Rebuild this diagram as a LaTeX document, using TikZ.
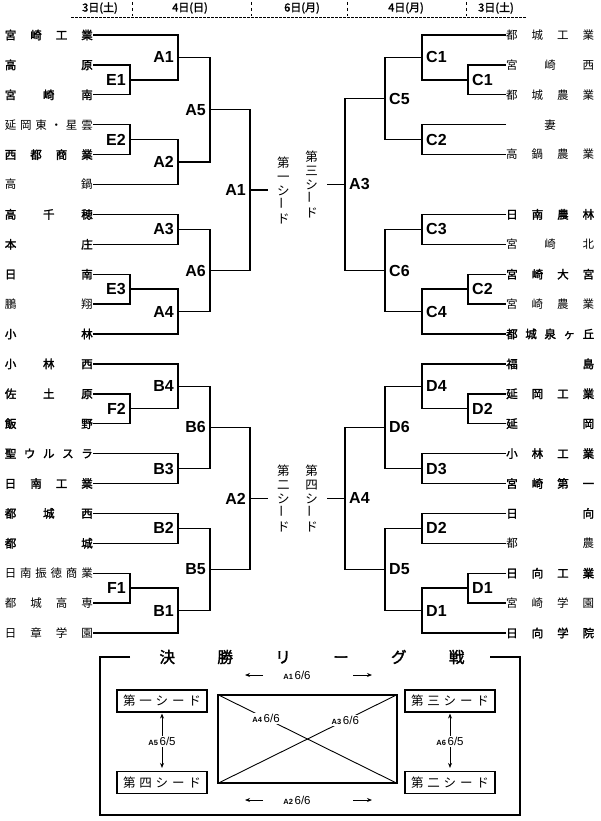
\documentclass[tikz,border=0pt]{standalone}
\usepackage{graphicx}
\usepackage{fontspec}
\newfontfamily\jp{Noto Sans CJK JP}
\newfontfamily\jpb[FakeBold=2]{Noto Sans CJK JP}
\newfontfamily\labfont{Liberation Sans}
\usetikzlibrary{positioning,arrows.meta}

\def\spreadA#1#2\endspread{#1\ifx\relax#2\relax\else\hfil\spreadA#2\endspread\fi}
\newcommand\spreadout[2][88pt]{\hbox to #1{\hskip 0pt plus .001fil\expandafter\spreadA#2\endspread\hskip 0pt plus .001fil}}
\newcommand\glab[2]{{\labfont\bfseries\fontsize{7.5}{8}\selectfont #1}\,{\labfont\fontsize{11.5}{12}\selectfont #2}}

\begin{document}
\begin{tikzpicture}[x=1pt,y=-1pt,
    teaml/.style={inner sep=0pt,font=\jp\fontsize{11.5}{12}\selectfont},
    teamb/.style={inner sep=0pt,font=\jpb\fontsize{11.5}{12}\selectfont},
    lbl/.style={inner sep=0pt,font=\labfont\bfseries\fontsize{16}{16}\selectfont},
    bline/.style={line width=1.4pt},
    seedtxt/.style={inner sep=1pt,align=center,font=\jp\fontsize{12.5}{14}\selectfont},
    hdr/.style={inner sep=0pt,font=\jpb\fontsize{11}{12}\selectfont},
    sbox/.style={draw,line width=1.1pt,minimum width=90pt,minimum height=22pt,inner sep=0pt,font=\jp\fontsize{12.5}{13}\selectfont},
    glbl/.style={fill=white,inner sep=1.5pt},
    arr/.style={line width=.9pt,-{Stealth[length=5pt,width=4pt]}},
    darr/.style={line width=.9pt,shorten <=1pt,shorten >=3pt,{Stealth[length=5pt,width=4pt]}-{Stealth[length=5pt,width=4pt]}}]
    \useasboundingbox (0,0) rectangle (600,821);

    % days
    \foreach \xx/\dd [count=\i] in {100/3日(土),190/4日(日),302/6日(月),406/4日(月),496/3日(土)}
        \node[hdr] (hd\i) at (\xx,8) {\dd};
    \foreach \xx in {132,251,347,466} \draw[dashed,line width=.6pt] (\xx,2) -- (\xx,16);
    \draw[dash pattern=on 3pt off 1pt,line width=.5pt] (71,17) -- (527,17);

    % teams
    \foreach \ww/\nm [count=\i] in {b/宮崎工業,b/高原,b/宮崎南,l/延岡東・星雲,b/西都商業,l/高鍋,b/高千穂,b/本庄,b/日南,l/鵬翔,b/小林,b/小林西,b/佐土原,b/飯野,b/聖ウルスラ,b/日南工業,b/都城西,b/都城,l/日南振徳商業,l/都城高専,l/日章学園}
        \node[team\ww,anchor=east] (L\i) at (93,{35+29.9*(\i-1)}) {\spreadout{\nm}};
    \foreach \ss/\ww/\nm in {1/l/都城工業,2/l/宮崎西,3/l/都城農業,4/l/妻,5/l/高鍋農業,7/b/日南農林,8/l/宮崎北,9/b/宮崎大宮,10/l/宮崎農業,11/b/都城泉ヶ丘,12/b/福島,13/b/延岡工業,14/b/延岡,15/b/小林工業,16/b/宮崎第一,17/b/日向,18/l/都農,19/b/日向工業,20/l/宮崎学園,21/b/日向学院}
        \node[team\ww,anchor=west] (R\ss) at (506,{35+29.9*(\ss-1)}) {\spreadout{\nm}};

    % left half
    \foreach \mm/\xx/\yy/\pp/\qq/\lb in {e1/130/79.85/L2/L3/E1,a1/178/57.4/L1/e1/A1,e2/130/139.65/L4/L5/E2,a2/178/162.1/e2/L6/A2,a5/210/109.75/a1/a2/A5,
        a3/178/229.35/L7/L8/A3,e3/130/289.15/L9/L10/E3,a4/178/311.6/e3/L11/A4,a6/210/270.5/a3/a4/A6,s1/250/190.1/a5/a6/A1,
        f2/130/408.75/L13/L14/F2,b4/178/386.3/L12/f2/B4,b3/178/468.55/L15/L16/B3,b6/210/427.4/b4/b3/B6,
        b2/178/528.35/L17/L18/B2,f1/130/588.15/L19/L20/F1,b1/178/610.6/f1/L21/B1,b5/210/569.5/b2/b1/B5,s2/250/498.45/b6/b5/A2}
    {
        \coordinate (\mm) at (\xx,\yy);
        \draw[bline] (\pp) -| (\mm) |- (\qq);
        \node[lbl,left=4pt of \mm] (t\mm) {\lb};
    }

    % right half
    \foreach \mm/\xx/\yy/\pp/\qq/\lb in {g1/468/79.85/R2/R3/C1,c1/422/57.4/R1/g1/C1,c2/422/139.65/R4/R5/C2,c5/385/98.5/c1/c2/C5,
        c3/422/229.35/R7/R8/C3,g2/468/289.15/R9/R10/C2,c4/422/311.6/g2/R11/C4,c6/385/270.5/c3/c4/C6,s3/345/184.5/c5/c6/A3,
        h2/468/408.75/R13/R14/D2,d4/422/386.3/R12/h2/D4,d3/422/468.55/R15/R16/D3,d6/385/427.4/d4/d3/D6,
        d2/422/528.35/R17/R18/D2,h1/468/588.15/R19/R20/D1,d1/422/610.6/h1/R21/D1,d5/385/569.5/d2/d1/D5,s4/345/498.45/d6/d5/A4}
    {
        \coordinate (\mm) at (\xx,\yy);
        \draw[bline] (\pp) -| (\mm) |- (\qq);
        \node[lbl,right=4pt of \mm] (t\mm) {\lb};
    }

    % seeds
    \node[seedtxt,right=26pt of s1] (seed1) {第\\一\\シ\\\rotatebox{90}{ー}\\ド};
    \node[seedtxt,right=26pt of s2] (seed2) {第\\二\\シ\\\rotatebox{90}{ー}\\ド};
    \node[seedtxt,left=26pt of s3] (seed3) {第\\三\\シ\\\rotatebox{90}{ー}\\ド};
    \node[seedtxt,left=26pt of s4] (seed4) {第\\四\\シ\\\rotatebox{90}{ー}\\ド};
    \foreach \ss in {1,2,3,4} \draw[bline,shorten >=8pt] (s\ss) -- (seed\ss);

    % final league
    \draw[line width=1.5pt] (130,657) -| (100,815) -| (520,657) -- (490,657);
    \node[inner sep=0pt,font=\jpb\fontsize{15.5}{16}\selectfont] (title) at (312,657) {\spreadout[305pt]{決勝リーグ戦}};

    \node[sbox] (sb1) at (162,701) {\spreadout[78pt]{第一シード}};
    \node[sbox] (sb3) at (450,701) {\spreadout[78pt]{第三シード}};
    \node[sbox] (sb4) at (162,782.5) {\spreadout[78pt]{第四シード}};
    \node[sbox] (sb2) at (450,782.5) {\spreadout[78pt]{第二シード}};
    \draw[darr] (sb1) -- (sb4) node[midway,glbl] (m14) {\glab{A5}{6/5}};
    \draw[darr] (sb3) -- (sb2) node[midway,glbl] (m32) {\glab{A6}{6/5}};

    \node[draw,line width=1.1pt,minimum width=179pt,minimum height=88pt,inner sep=0pt] (board) at (307.5,739) {};
    \draw[line width=.9pt] (board.north west) -- (board.south east) node[pos=.27,glbl] (m12) {\glab{A4}{6/6}};
    \draw[line width=.9pt] (board.north east) -- (board.south west) node[pos=.29,glbl] (m34) {\glab{A3}{6/6}};

    \foreach \yy/\nn/\gg in {675/13/A1,800/24/A2} {
        \node[inner sep=1pt] (m\nn) at (297,\yy) {\glab{\gg}{6/6}};
        \coordinate (m\nn a) at (263,\yy);
        \coordinate (m\nn b) at (245,\yy);
        \coordinate (m\nn c) at (353,\yy);
        \coordinate (m\nn d) at (372,\yy);
        \draw[arr] (m\nn a) -- (m\nn b);
        \draw[arr] (m\nn c) -- (m\nn d);
    }
\end{tikzpicture}
\end{document}
